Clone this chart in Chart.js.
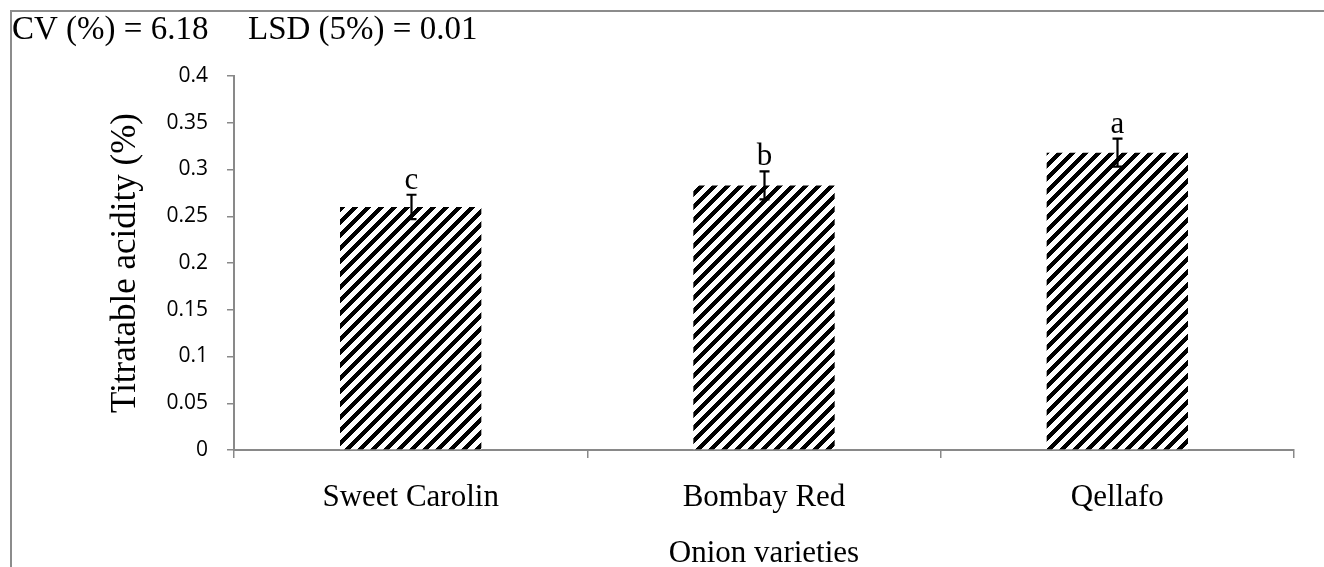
<!DOCTYPE html>
<html>
<head>
<meta charset="utf-8">
<script src="https://cdn.jsdelivr.net/npm/chart.js@4/dist/chart.umd.min.js"></script>
<style>
  html, body { margin: 0; padding: 0; background: #fff; }
  #chart { display: block; }
</style>
</head>
<body>
<canvas id="chart" width="1324" height="567"></canvas>
<script>
// chart data
const varieties = ['Sweet Carolin', 'Bombay Red', 'Qellafo'];
const acidity = [0.26, 0.283, 0.318];
const errors = [0.013, 0.015, 0.015];
const letters = ['c', 'b', 'a'];
const yTickLabels = ['0', '0.05', '0.1', '0.15', '0.2', '0.25', '0.3', '0.35', '0.4'];
const statsLeft = 'CV (%) = 6.18';
const statsRight = 'LSD (5%) = 0.01';

const axisGray = '#898989';
const serif = "'Liberation Serif', 'Times New Roman', serif";

// diagonal hatch like the excel pattern fill, built pixel by pixel so it tiles cleanly
function makeHatch() {
    const size = 13;
    const c = document.createElement('canvas');
    c.width = size;
    c.height = size;
    const g = c.getContext('2d');
    g.fillStyle = '#fff';
    g.fillRect(0, 0, size, size);
    g.fillStyle = '#000';
    for (let py = 0; py < size; py++) {
        for (let px = 0; px < size; px++) {
            if ((px + py) % size < 6) g.fillRect(px, py, 1, 1);
        }
    }
    return g.createPattern(c, 'repeat');
}

const ctx = document.getElementById('chart').getContext('2d');

const extras = {
    id: 'extras',
    afterDatasetsDraw(chart) {
        const c = chart.ctx;
        const y = chart.scales.y;
        const meta = chart.getDatasetMeta(0);
        c.save();
        c.strokeStyle = '#000';
        c.lineWidth = 2.2;
        c.fillStyle = '#000';
        c.font = '31px ' + serif;
        c.textAlign = 'center';
        c.textBaseline = 'alphabetic';
        meta.data.forEach((bar, i) => {
            const x = Math.round(bar.x) + 0.5;
            const hi = y.getPixelForValue(acidity[i] + errors[i]);
            const lo = y.getPixelForValue(acidity[i] - errors[i]);
            c.beginPath();
            c.moveTo(x, hi); c.lineTo(x, lo);
            c.moveTo(x - 5, hi); c.lineTo(x + 5, hi);
            c.moveTo(x - 5, lo); c.lineTo(x + 5, lo);
            c.stroke();
            c.fillText(letters[i], x, hi - 6);
        });
        c.restore();
    },
    afterDraw(chart) {
        const c = chart.ctx;
        c.save();
        // chart frame (top and left edges visible)
        c.strokeStyle = '#8c8c8c';
        c.lineWidth = 2;
        c.beginPath();
        c.moveTo(11, chart.height); c.lineTo(11, 11); c.lineTo(chart.width, 11);
        c.stroke();
        c.fillStyle = '#000';
        c.font = '33px ' + serif;
        c.textBaseline = 'alphabetic';
        c.fillText(statsLeft, 12, 39);
        c.fillText(statsRight, 248, 39);
        c.restore();
    }
};

new Chart(ctx, {
    type: 'bar',
    data: {
        labels: varieties,
        datasets: [{
            data: acidity,
            backgroundColor: makeHatch(),
            borderWidth: 0,
            categoryPercentage: 1,
            barPercentage: 0.4
        }]
    },
    options: {
        responsive: false,
        animation: false,
        events: [],
        layout: { padding: { top: 76, right: 30, left: 0, bottom: 0 } },
        plugins: {
            legend: { display: false },
            tooltip: { enabled: false }
        },
        scales: {
            x: {
                grid: {
                    offset: true,
                    drawOnChartArea: false,
                    tickLength: 8,
                    color: axisGray,
                    lineWidth: 1.5
                },
                border: { color: axisGray, width: 2 },
                ticks: {
                    color: '#000',
                    font: { family: serif, size: 31 },
                    padding: 21
                },
                title: {
                    display: true,
                    text: 'Onion varieties',
                    color: '#000',
                    font: { family: serif, size: 31 },
                    padding: { top: 0, bottom: -5 }
                },
                afterFit(scale) { scale.height = 117; }
            },
            y: {
                min: 0,
                max: 0.4,
                grid: {
                    drawOnChartArea: false,
                    tickLength: 7,
                    color: axisGray,
                    lineWidth: 1.5
                },
                border: { color: axisGray, width: 2 },
                ticks: {
                    stepSize: 0.05,
                    color: '#000',
                    font: { family: "'Open Sans', sans-serif", size: 21 },
                    padding: 19,
                    callback: (v, i) => yTickLabels[i]
                },
                title: {
                    display: true,
                    text: 'Titratable acidity (%)',
                    color: '#000',
                    font: { family: serif, size: 35 },
                    padding: { top: 105, bottom: 0 }
                },
                afterFit(scale) { scale.width = 234; }
            }
        }
    },
    plugins: [extras]
});
</script>
</body>
</html>
